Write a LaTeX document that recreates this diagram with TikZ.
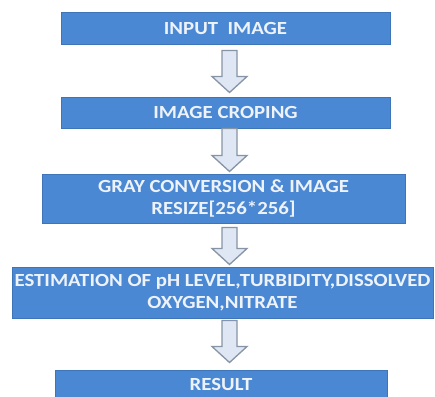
\documentclass[tikz,border=0pt]{standalone}
\usepackage{fontspec}
\setmainfont{Carlito}
\newfontfamily\boxfont[FakeStretch=1.125]{Carlito}
\usetikzlibrary{calc}
\definecolor{boxfill}{HTML}{4A88D4}
\definecolor{boxline}{HTML}{3E74B8}
\definecolor{boxtext}{HTML}{EEF3FA}
\definecolor{arrfill}{HTML}{DEE7F3}
\definecolor{arrline}{HTML}{8794A6}
\tikzset{
  box/.style={draw=boxline, line width=1pt, fill=boxfill, text=boxtext,
    font=\boxfont\fontsize{18.5}{22.5}\selectfont\bfseries, align=center, inner sep=0pt},
  barrow/.style={draw=arrline, fill=arrfill, line width=1.3pt, line join=miter}
}
\newcommand\flowarrow[2]{%
  \draw[barrow] let \p1=(#1), \p2=(#2) in
    (\x1-7.5pt,\y1) -- (\x1+7.5pt,\y1) -- (\x1+7.5pt,\y2+16pt) --
    (\x1+17.5pt,\y2+16pt) -- (\x1,\y2) -- (\x1-17.5pt,\y2+16pt) --
    (\x1-7.5pt,\y2+16pt) -- cycle;}
\begin{document}
\begin{tikzpicture}[x=1pt,y=-1pt]
\clip (0,0) rectangle (435,396);
\fill[white] (0,0) rectangle (435,396);
\node[box, minimum width=329pt, minimum height=31pt] (b1) at (225.5,28.5) {INPUT\ \ IMAGE};
\node[box, minimum width=329pt, minimum height=31pt] (b2) at (225.5,112.5) {IMAGE CROPING};
\node[box, minimum width=363pt, minimum height=49pt] (b3) at (223.5,198.5) {GRAY CONVERSION \& IMAGE\\RESIZE[256*256]};
\node[box, minimum width=421pt, minimum height=51pt] (b4) at (222.5,292.5) {ESTIMATION OF pH LEVEL,TURBIDITY,DISSOLVED\\OXYGEN,NITRATE};
\node[box, minimum width=332pt, minimum height=28pt] (b5) at (221,384) {RESULT};
\coordinate (a1t) at ($(b1.south)+(4,6)$);
\coordinate (a1b) at ($(b2.north)+(4,-4)$);
\coordinate (a2t) at ($(b2.south)+(4,0)$);
\coordinate (a2b) at ($(b3.north)+(4,-2)$);
\coordinate (a3t) at ($(b3.south)+(6,4)$);
\coordinate (a3b) at ($(b4.north)+(7,-2)$);
\coordinate (a4t) at ($(b4.south)+(7,2)$);
\coordinate (a4b) at ($(b5.north)+(8.5,-7)$);
\flowarrow{a1t}{a1b}
\flowarrow{a2t}{a2b}
\flowarrow{a3t}{a3b}
\flowarrow{a4t}{a4b}
\end{tikzpicture}
\end{document}
